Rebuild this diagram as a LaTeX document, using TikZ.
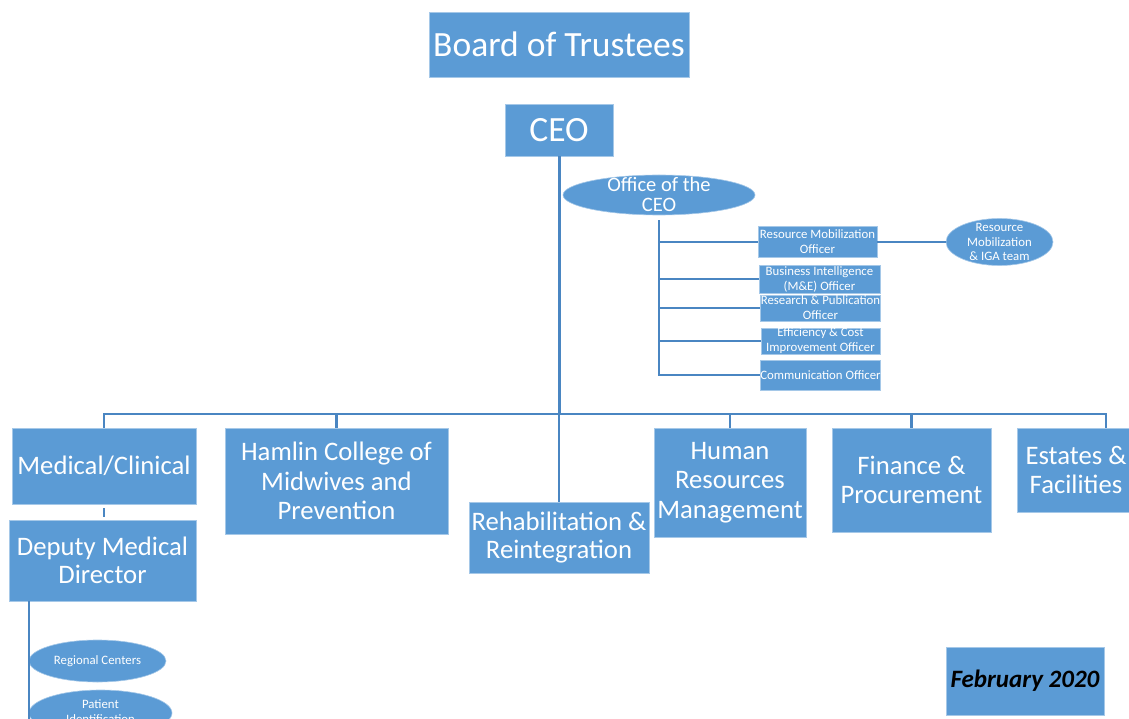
\documentclass[tikz,border=0pt]{standalone}
\usepackage{fontspec}
\setmainfont{Carlito}
\usepackage{tikz}
\usetikzlibrary{shapes.geometric, positioning}
\definecolor{ofblue}{HTML}{5B9BD5}
\definecolor{lnblue}{HTML}{4A86C2}
\newcommand{\fsz}[2]{\fontsize{#1}{#2}\selectfont}
\tikzstyle{unit}  = [rectangle, fill=ofblue, draw=ofblue!55!white, line width=0.8pt, text=white, inner sep=0pt]
\tikzstyle{oval}  = [ellipse, fill=ofblue, draw=ofblue!55!white, line width=0.6pt, inner sep=0pt]
\tikzstyle{conn}  = [draw=lnblue, line width=2.2pt]
\tikzset{every node/.style={align=center}}

\begin{document}
\begin{tikzpicture}[x=1pt, y=-1pt]
  \useasboundingbox (0,0) rectangle (1129,719);
  \clip (0,0) rectangle (1129,719);

  % Top of the chart
  \node[unit, minimum width=260, minimum height=65, font=\fsz{35.5}{40}] (board) at (559,44.5) {Board of Trustees};
  \node[unit, minimum width=108, minimum height=52, font=\fsz{35.5}{40}] (ceo) at (559,130) {CEO};

  % Office of the CEO and its officers
  \node[oval, minimum width=192, minimum height=40] (office) at (659,195) {};
  \node[text=white, font=\fsz{20.5}{20}] at (659,194) {Office of the\\CEO};
  \node[unit, minimum width=119, minimum height=31, font=\fsz{12.8}{15}] (rmo) at (817.5,242) {Resource Mobilization\\Officer};
  \node[unit, minimum width=121, minimum height=28, font=\fsz{12.8}{15}] (bi) at (819.5,279) {Business Intelligence\\(M\&E) Officer};
  \node[unit, minimum width=119, minimum height=26, font=\fsz{12.8}{15}] (rp) at (820.5,308) {Research \& Publication\\Officer};
  \node[unit, minimum width=119, minimum height=26, font=\fsz{12.8}{15}] (eci) at (820.5,341) {Efficiency \& Cost\\Improvement Officer};
  \node[unit, minimum width=119, minimum height=30, font=\fsz{12.8}{15}] (comm) at (820.5,375) {Communication Officer};
  \node[oval, minimum width=107, minimum height=47] (team) at (999.5,242) {};
  \node[text=white, font=\fsz{12.8}{14.5}] at (team) {Resource\\Mobilization\\\& IGA team};

  % Departments
  \node[unit, minimum width=184, minimum height=76, font=\fsz{26.7}{29}] (med) at (104,466) {Medical/Clinical};
  \node[unit, minimum width=223, minimum height=106, font=\fsz{26.7}{29.5}] (hamlin) at (336.5,481) {Hamlin College of\\Midwives and\\Prevention};
  \node[unit, minimum width=180, minimum height=71, font=\fsz{26.7}{28.5}] (rehab) at (559,537.5) {Rehabilitation \&\\Reintegration};
  \node[unit, minimum width=152, minimum height=109, font=\fsz{26.7}{29.5}] (hr) at (730,482.5) {Human\\Resources\\Management};
  \node[unit, minimum width=159, minimum height=104, font=\fsz{26.7}{28.5}] (fin) at (911.5,480) {Finance \&\\Procurement};
  \node[unit, minimum width=118, minimum height=84, font=\fsz{26.7}{28.5}] (est) at (1076,470) {Estates \&\\Facilities};

  % Medical branch
  \node[unit, minimum width=187, minimum height=81, font=\fsz{26.7}{28.5}] (dmd) at (102.5,560.5) {Deputy Medical\\Director};
  \node[oval, minimum width=137, minimum height=42] (regc) at (97.5,661) {};
  \node[text=white, font=\fsz{12.8}{15}] at (regc) {Regional Centers};
  \node[oval, minimum width=143, minimum height=46] (patid) at (100.5,713) {};
  \node[text=white, font=\fsz{12.8}{15}] at (100.5,711.5) {Patient\\Identification};
  \draw[conn, line width=2pt] (regc.west |- dmd.south) -- ++(0,120);

  % Date stamp
  \node[unit, text=black, minimum width=158, minimum height=68, font=\fsz{25}{28}\bfseries\itshape] (feb) at (1025,681) {February 2020};

  % Connectors
  \coordinate (bar) at (559,414);
  \coordinate (estdrop) at (1106,414);
  \draw[conn, line width=3pt] (ceo.south) -- (ceo.south |- bar);
  \draw[conn, line width=2pt] (ceo.south |- bar) -- (rehab.north);
  \draw[conn] (med.north) -- (med.north |- bar) -- (estdrop) -- (estdrop |- est.north);
  \foreach \n in {hamlin,hr,fin}
      \draw[conn] (\n.north) -- (\n.north |- bar);
  \draw[conn, shorten <=5pt] (office.south) |- (comm.west);
  \foreach \n in {rmo,bi,rp,eci}
      \draw[conn] (office.south |- \n.west) -- (\n.west);
  \draw[conn] (rmo.east) -- (team.west);
  \draw[conn, line width=2pt, shorten <=4pt, shorten >=3pt] (med.south) -- (med.south |- dmd.north);
\end{tikzpicture}
\end{document}
